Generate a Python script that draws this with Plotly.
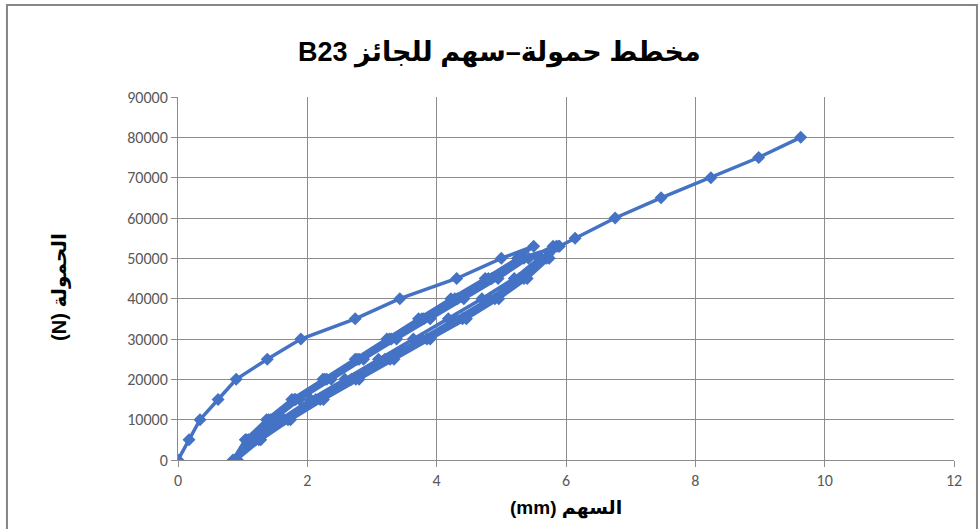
import plotly.graph_objects as go

# Deflection (mm) and load (N) for beam B23: first loading, repeated
# unload/reload cycles, then final loading to 80 kN.
first_load_x = [0, 0.17, 0.34, 0.62, 0.90, 1.38, 1.90, 2.74, 3.43, 4.31, 5.00, 5.50]
first_load_y = [0, 5000, 10000, 15000, 20000, 25000, 30000, 35000, 40000, 45000, 50000, 53000]

# cycle paths, listed from 0 N up to the peak load
cycle_loads = [0, 5000, 10000, 15000, 20000, 25000, 30000, 35000, 40000, 45000, 50000, 53000]
unload_1 = [0.85, 1.04, 1.37, 1.76, 2.24, 2.74, 3.23, 3.72, 4.22, 4.75, 5.25, 5.55]
reload_2 = [0.88, 1.25, 1.70, 2.20, 2.75, 3.28, 3.85, 4.40, 4.90, 5.35, 5.70, 5.85]
unload_2 = [0.88, 1.09, 1.43, 1.82, 2.30, 2.80, 3.30, 3.80, 4.32, 4.85, 5.35, 5.62]
reload_3 = [0.90, 1.20, 1.64, 2.13, 2.68, 3.20, 3.76, 4.30, 4.82, 5.28, 5.62, 5.80]
unload_3 = [0.90, 1.12, 1.48, 1.88, 2.37, 2.87, 3.38, 3.90, 4.42, 4.95, 5.42, 5.68]
reload_4 = [0.92, 1.28, 1.74, 2.25, 2.80, 3.34, 3.90, 4.46, 4.96, 5.40, 5.74, 5.88]
unload_4 = [0.92, 1.06, 1.40, 1.80, 2.27, 2.77, 3.27, 3.77, 4.28, 4.80, 5.30, 5.60]
reload_5 = [0.95, 1.16, 1.58, 2.05, 2.58, 3.10, 3.64, 4.18, 4.70, 5.20, 5.58, 5.90]

final_load_x = [6.14, 6.76, 7.47, 8.24, 8.98, 9.63]
final_load_y = [55000, 60000, 65000, 70000, 75000, 80000]

x_ticks = [0, 2, 4, 6, 8, 10, 12]
y_ticks = [0, 10000, 20000, 30000, 40000, 50000, 60000, 70000, 80000, 90000]

title_text = "\u202bمخطط حمولة–سهم للجائز B23\u202c"
x_title = "\u202bالسهم (mm)\u202c"
y_title = "\u202bالحمولة (N)\u202c"

# assemble the full load history as one continuous series
deflection_mm = list(first_load_x)
load_n = list(first_load_y)
cycles = [(unload_1, False), (reload_2, True), (unload_2, False), (reload_3, True),
          (unload_3, False), (reload_4, True), (unload_4, False), (reload_5, True)]
for path, going_up in cycles:
    pairs = list(zip(path, cycle_loads))
    if not going_up:
        pairs = pairs[::-1]
    deflection_mm += [p[0] for p in pairs[1:]]
    load_n += [p[1] for p in pairs[1:]]
deflection_mm += final_load_x
load_n += final_load_y

blue = "#4472C4"
grid = "#8C8C8C"
tick_font = dict(family="Carlito, Lato, 'Open Sans', sans-serif", size=16, color="#595959")
bold_font = "Arial, 'Liberation Sans', 'DejaVu Sans', sans-serif"

fig = go.Figure()
fig.add_trace(go.Scatter(
    x=deflection_mm, y=load_n, mode="lines+markers",
    line=dict(color=blue, width=3.5),
    marker=dict(symbol="diamond", size=10, color=blue),
    showlegend=False, hoverinfo="x+y",
))

fig.update_layout(
    width=979, height=529,
    margin=dict(l=178, r=25, t=97, b=69),
    paper_bgcolor="white", plot_bgcolor="white",
    title=dict(text=f"<b>{title_text}</b>", x=0.51, xanchor="center",
               y=0.902, yanchor="middle",
               font=dict(family=bold_font, size=27, color="#000000")),
    xaxis=dict(
        range=[0, 12], tickvals=x_ticks, ticktext=[str(v) for v in x_ticks],
        showgrid=True, gridcolor=grid, gridwidth=1,
        showline=True, linecolor=grid, linewidth=1,
        ticks="outside", ticklen=6, tickcolor=grid,
        tickfont=tick_font, zeroline=False,
    ),
    yaxis=dict(
        range=[0, 90000], tickvals=y_ticks, ticktext=[str(v) for v in y_ticks],
        showgrid=True, gridcolor=grid, gridwidth=1,
        showline=True, linecolor=grid, linewidth=1,
        ticks="outside", ticklen=6, tickcolor=grid,
        tickfont=tick_font, zeroline=False,
    ),
    annotations=[
        dict(text=f"<b>{x_title}</b>", xref="paper", yref="paper",
             x=0.5, y=-0.132, xanchor="center", yanchor="middle", showarrow=False,
             font=dict(family=bold_font, size=19, color="#000000")),
        dict(text=f"<b>{y_title}</b>", xref="paper", yref="paper",
             x=-0.152, y=0.477, xanchor="center", yanchor="middle", showarrow=False,
             textangle=-90,
             font=dict(family=bold_font, size=20, color="#000000")),
    ],
    shapes=[dict(type="rect", xref="paper", yref="paper",
                 x0=-0.2204, x1=1.0296, y0=-0.2, y1=1.2534,
                 line=dict(color="#868686", width=2), layer="below")],
)

fig.write_html("out.html")
